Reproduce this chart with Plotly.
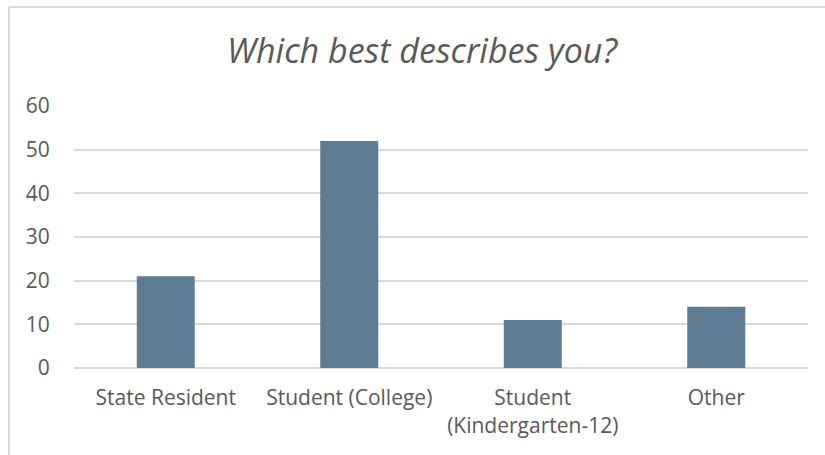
import plotly.graph_objects as go

categories = ["State Resident", "Student (College)", "Student<br>(Kindergarten-12)", "Other"]
values = [21, 52, 11, 14]
y_ticks = [0, 10, 20, 30, 40, 50, 60]
title_text = "Which best describes you?"

W, H = 825, 455
ml, mr, mt, mb = 74, 17, 106, 87
pw, ph = W - ml - mr, H - mt - mb

def px_x(x):
    return (x - ml) / pw

def px_y(y):
    return (H - mb - y) / ph

fig = go.Figure(go.Bar(
    x=categories, y=values,
    marker=dict(color="#5D7B93", line=dict(width=0)),
    width=0.316,
))

border = "#D9D9D9"
fig.add_shape(type="line", xref="paper", yref="paper",
              x0=px_x(9), x1=px_x(9), y0=px_y(7), y1=px_y(H + 5),
              line=dict(color=border, width=2), layer="below")
fig.add_shape(type="line", xref="paper", yref="paper",
              x0=px_x(9), x1=px_x(W + 5), y0=px_y(7), y1=px_y(7),
              line=dict(color=border, width=2), layer="below")

fam = "Open Sans, Lato, sans-serif"
fig.update_layout(
    width=W, height=H,
    margin=dict(l=ml, r=mr, t=mt, b=mb, autoexpand=False),
    paper_bgcolor="white", plot_bgcolor="white",
    font=dict(family=fam, size=21, color="#595959"),
    title=dict(text="<i>" + title_text + "</i>", x=422 / W, xref="container", xanchor="center",
               y=1 - 51 / H, yref="container", yanchor="middle",
               font=dict(size=34, color="#595959", family=fam)),
    showlegend=False,
    bargap=0.684,
)
fig.update_xaxes(
    showgrid=False, showline=False, zeroline=False,
    ticks="outside", ticklen=11, tickcolor="rgba(0,0,0,0)",
    tickfont=dict(size=21, color="#595959"),
)
fig.update_yaxes(
    range=[0, 60], tickvals=y_ticks,
    showgrid=True, gridcolor="#D9D9D9", gridwidth=1.5,
    zeroline=True, zerolinecolor="#D9D9D9", zerolinewidth=1.5,
    showline=False,
    ticks="outside", ticklen=19, tickcolor="rgba(0,0,0,0)",
    tickfont=dict(size=21, color="#595959"),
)

fig.write_html("out.html")
